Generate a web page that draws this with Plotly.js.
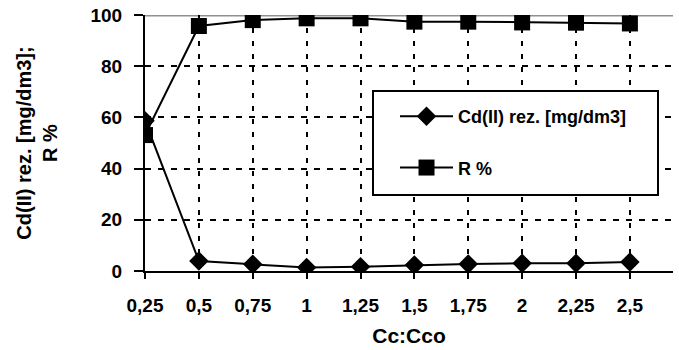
<!DOCTYPE html>
<html>
<head>
<meta charset="utf-8">
<script src="https://cdn.plot.ly/plotly-3.0.1.min.js"></script>
<style>html,body{margin:0;padding:0;background:#fff;}#chart{width:679px;height:350px;}</style>
</head>
<body>
<div id="chart"></div>
<script>
// Data
const ratio = [0.25, 0.5, 0.75, 1, 1.25, 1.5, 1.75, 2, 2.25, 2.5];
const ratioLabels = ["0,25", "0,5", "0,75", "1", "1,25", "1,5", "1,75", "2", "2,25", "2,5"];
const cdResidual = [58.7, 3.9, 2.6, 1.4, 1.7, 2.3, 2.7, 3.0, 3.0, 3.5];
const removalPct = [53.1, 95.7, 98.0, 98.7, 98.7, 97.4, 97.4, 97.1, 97.0, 96.7];
const seriesNames = ["Cd(II) rez. [mg/dm3]", "R %"];
const yTicks = [0, 20, 40, 60, 80, 100];

const FONT = "Liberation Sans, Arial, sans-serif";

const traces = [
  {
    x: ratio, y: cdResidual, name: seriesNames[0], type: "scatter", mode: "lines+markers",
    line: {color: "#000", width: 2},
    marker: {symbol: "diamond", size: 15, color: "#000"},
    legendgroup: "a"
  },
  {
    x: ratio, y: removalPct, name: seriesNames[1], type: "scatter", mode: "lines+markers",
    line: {color: "#000", width: 2},
    marker: {symbol: "square", size: 16, color: "#000"},
    legendgroup: "b"
  }
];

const layout = {
  width: 679, height: 350,
  margin: {l: 145, r: 6, t: 15, b: 79},
  paper_bgcolor: "#fff", plot_bgcolor: "#fff",
  font: {family: FONT, color: "#000", size: 19, weight: "bold"},
  showlegend: true,
  xaxis: {
    range: [0.25, 2.70],
    tickmode: "array", tickvals: ratio, ticktext: ratioLabels,
    ticks: "outside", ticklen: 6, tickwidth: 2, tickcolor: "#000",
    ticklabelstandoff: 10,
    showline: true, linecolor: "#000", linewidth: 2,
    showgrid: true, gridcolor: "#000", gridwidth: 2, griddash: "5px,8px",
    zeroline: false,
    tickfont: {family: FONT, size: 19, weight: "bold", color: "#000"},
    title: {text: "Cc:Cco", font: {family: FONT, size: 21, weight: "bold", color: "#000"}, standoff: 14}
  },
  yaxis: {
    range: [0, 100],
    tickmode: "array", tickvals: yTicks,
    ticks: "outside", ticklen: 9, tickwidth: 2, tickcolor: "#000",
    ticklabelstandoff: 8,
    showline: true, linecolor: "#000", linewidth: 2,
    showgrid: true, gridcolor: "#000", gridwidth: 2, griddash: "6px,7px",
    zeroline: false,
    tickfont: {family: FONT, size: 19, weight: "bold", color: "#000"},
    title: {text: "Cd(II) rez. [mg/dm3];<br>R %", font: {family: FONT, size: 20, weight: "bold", color: "#000"}, standoff: 27}
  },
  legend: {
    x: 0.4735, y: 0.676, xanchor: "left", yanchor: "top",
    bgcolor: "rgba(0,0,0,0)", borderwidth: 0,
    font: {family: FONT, size: 18, weight: "bold", color: "#000"},
    traceorder: "grouped", tracegroupgap: 25, itemwidth: 53
  },
  shapes: [
    {type: "line", xref: "paper", yref: "y", x0: 0, x1: 1, y0: 100, y1: 100,
     line: {color: "#909090", width: 3}, layer: "below"},
    {type: "rect", xref: "paper", yref: "paper",
     x0: (373 - 145) / 528, x1: (658 - 145) / 528,
     y0: (271 - 195) / 256, y1: (271 - 91) / 256,
     fillcolor: "#fff", line: {color: "#000", width: 2}, layer: "above"}
  ]
};

Plotly.newPlot("chart", traces, layout, {displayModeBar: false, staticPlot: true});
</script>
</body>
</html>
